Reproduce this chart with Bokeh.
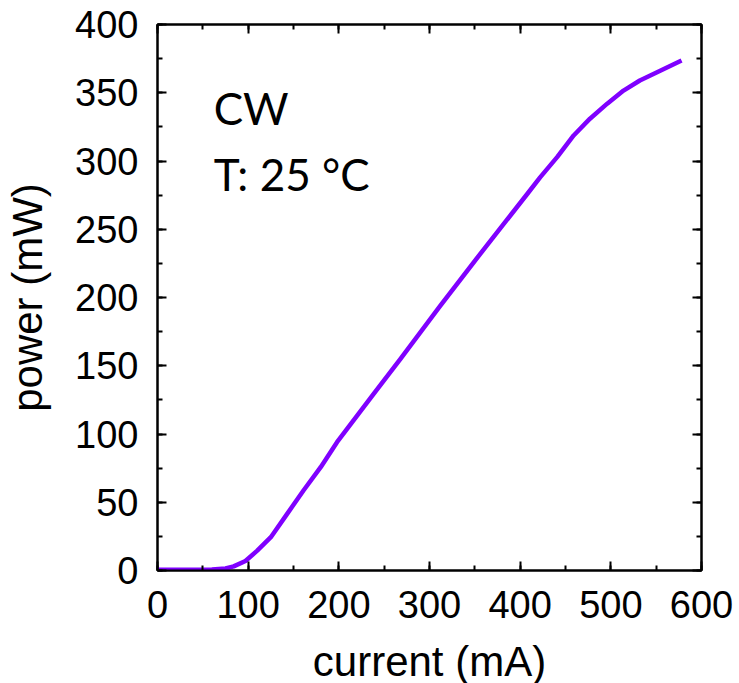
from bokeh.plotting import figure
from bokeh.models import Range1d, LinearAxis, Label, SingleIntervalTicker, CustomJSTickFormatter
from bokeh.embed import file_html
from bokeh.resources import INLINE

current_mA = [0, 30, 60, 75, 84, 97, 110, 125, 143, 161, 180, 198, 238, 268, 312,
              356, 408, 422, 441, 459, 477, 496, 514, 532, 551, 578]
power_mW = [0.5, 0.5, 0.7, 1.5, 3, 7, 14.6, 24.4, 41.5, 58.6, 75.7, 94, 129, 155, 194,
            232, 276, 288, 303, 318.7, 331, 342, 351.6, 359, 365, 373.6]
x_ticks = [0, 100, 200, 300, 400, 500, 600]
y_ticks = [0, 50, 100, 150, 200, 250, 300, 350, 400]
annot = ["CW", "T: 25 °C"]

TICK_FONT = "38px"
LABEL_FONT = "42px"
FONT = "Liberation Sans"

p = figure(frame_width=544, frame_height=546,
           min_border_left=157, min_border_right=34, min_border_top=24, min_border_bottom=113,
           x_range=Range1d(0, 600), y_range=Range1d(0, 400),
           output_backend="svg", toolbar_location=None,
           x_axis_label="current (mA)", y_axis_label="power (mW)")
p.xgrid.visible = False
p.ygrid.visible = False
p.outline_line_color = "black"
p.outline_line_width = 2
p.outline_line_alpha = 1

p.line(current_mA, power_mW, line_color="#7f00ff", line_width=4.5, line_join="round")


def style(ax, ticks, minor, show):
    ax.ticker = SingleIntervalTicker(interval=ticks[1] - ticks[0], num_minor_ticks=minor)
    ax.axis_line_color = "black"
    ax.axis_line_width = 2
    ax.major_tick_line_width = 2
    ax.minor_tick_line_width = 2
    ax.major_tick_in = 9
    ax.major_tick_out = 0
    ax.minor_tick_in = 5
    ax.minor_tick_out = 0
    ax.major_label_text_font = FONT
    ax.major_label_text_color = "black"
    ax.axis_label_text_font = FONT
    ax.axis_label_text_font_style = "normal"
    ax.axis_label_text_font_size = LABEL_FONT
    ax.axis_label_text_color = "black"
    ax.major_label_text_font_size = TICK_FONT
    if not show:
        ax.formatter = CustomJSTickFormatter(code="return '';")
        ax.major_label_standoff = 0


style(p.xaxis[0], x_ticks, 2, True)
style(p.yaxis[0], y_ticks, 2, True)
p.xaxis[0].major_label_standoff = 20
p.xaxis[0].axis_label_standoff = 17
p.yaxis[0].major_label_standoff = 19
p.yaxis[0].axis_label_standoff = 21

top = LinearAxis()
style(top, x_ticks, 2, False)
p.add_layout(top, "above")
right = LinearAxis()
style(right, y_ticks, 2, False)
p.add_layout(right, "right")

for txt, yv in zip(annot, [338.5, 290.8]):
    p.add_layout(Label(x=62, y=yv, text=txt, text_font="Lato", text_font_size="44px",
                       text_color="black", text_baseline="alphabetic", text_align="left"))

open("out.html", "w").write(file_html(p, INLINE))
